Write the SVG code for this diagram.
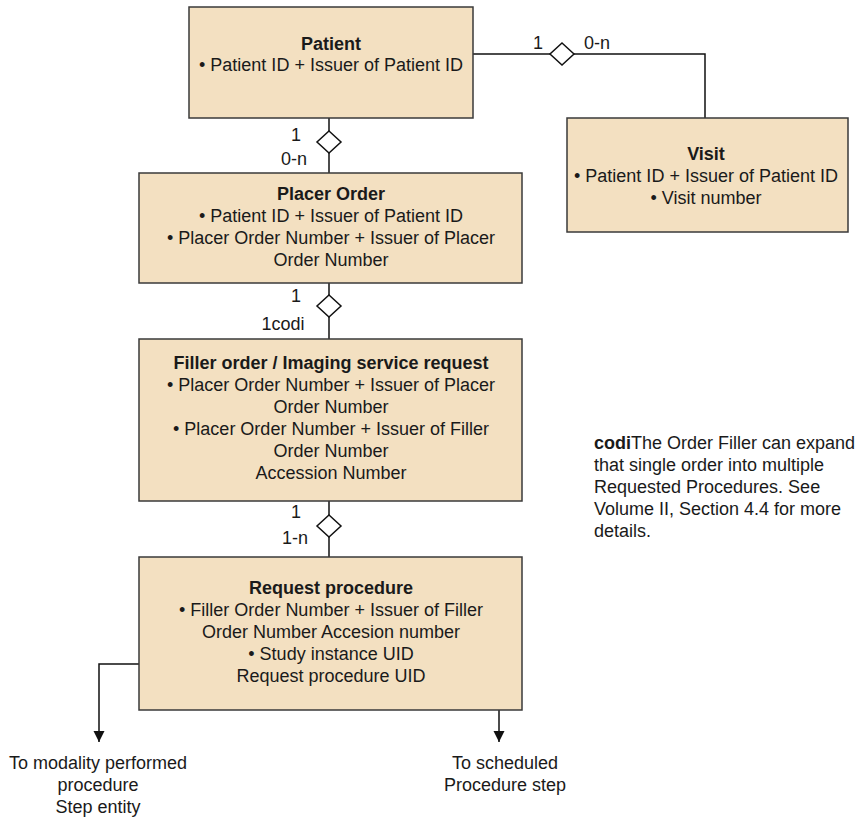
<svg xmlns="http://www.w3.org/2000/svg" width="861" height="820" viewBox="0 0 861 820">
  <defs>
    <style>
      .box { fill: #F3E0C1; stroke: #3a3a3a; stroke-width: 1.5; }
      .t { font-family: "Liberation Sans", Arial, sans-serif; font-size: 18px; fill: #1a1a1a; text-anchor: middle; }
      .b { font-weight: bold; }
      .lbl { font-family: "Liberation Sans", Arial, sans-serif; font-size: 18px; fill: #1a1a1a; text-anchor: middle; }
      .note { font-family: "Liberation Sans", Arial, sans-serif; font-size: 18px; fill: #1a1a1a; }
      .wire { fill: none; stroke: #111; stroke-width: 1.5; }
      .dia { fill: #fff; stroke: #111; stroke-width: 1.5; }
    </style>
    <marker id="tip" markerUnits="userSpaceOnUse" markerWidth="12" markerHeight="12" viewBox="0 0 12 12" refX="11" refY="6" orient="auto">
      <path d="M0,0.5 L11,6 L0,11.5 Z" fill="#111"/>
    </marker>
  </defs>

  <!-- connectors -->
  <g id="connectors">
    <path class="wire" d="M473,54 H705 V118"/>
    <path class="wire" d="M329,118 V173"/>
    <path class="wire" d="M329,283 V339"/>
    <path class="wire" d="M329,501 V557"/>
    <path class="wire" d="M139,664 H99 V742" marker-end="url(#tip)"/>
    <path class="wire" d="M499,710 V742" marker-end="url(#tip)"/>
    <polygon class="dia" points="562,43 574,54 562,65 550,54"/>
    <polygon class="dia" points="329,131 341,142 329,153 317,142"/>
    <polygon class="dia" points="329,295 341,306 329,317 317,306"/>
    <polygon class="dia" points="329,515 341,526 329,537 317,526"/>
    <text class="lbl" x="538" y="49">1</text>
    <text class="lbl" x="597" y="49">0-n</text>
    <text class="lbl" x="296" y="141">1</text>
    <text class="lbl" x="294" y="165">0-n</text>
    <text class="lbl" x="296" y="302">1</text>
    <text class="lbl" x="283" y="330">1codi</text>
    <text class="lbl" x="296" y="518">1</text>
    <text class="lbl" x="295" y="544">1-n</text>
  </g>

  <g id="patient">
    <rect class="box" x="189" y="7" width="284" height="111"/>
    <text class="t b" x="331" y="50">Patient</text>
    <text class="t" x="331" y="71">• Patient ID + Issuer of Patient ID</text>
  </g>

  <g id="visit">
    <rect class="box" x="567" y="118" width="281" height="114"/>
    <text class="t b" x="706" y="160">Visit</text>
    <text class="t" x="706" y="182">• Patient ID + Issuer of Patient ID</text>
    <text class="t" x="706" y="204">• Visit number</text>
  </g>

  <g id="placer-order">
    <rect class="box" x="139" y="173" width="383" height="110"/>
    <text class="t b" x="331" y="200">Placer Order</text>
    <text class="t" x="331" y="222">• Patient ID + Issuer of Patient ID</text>
    <text class="t" x="331" y="244">• Placer Order Number + Issuer of Placer</text>
    <text class="t" x="331" y="266">Order Number</text>
  </g>

  <g id="filler-order">
    <rect class="box" x="139" y="339" width="383" height="162"/>
    <text class="t b" x="331" y="369">Filler order / Imaging service request</text>
    <text class="t" x="331" y="391">• Placer Order Number + Issuer of Placer</text>
    <text class="t" x="331" y="413">Order Number</text>
    <text class="t" x="331" y="435">• Placer Order Number + Issuer of Filler</text>
    <text class="t" x="331" y="457">Order Number</text>
    <text class="t" x="331" y="479">Accession Number</text>
  </g>

  <g id="request-procedure">
    <rect class="box" x="139" y="557" width="383" height="153"/>
    <text class="t b" x="331" y="594">Request procedure</text>
    <text class="t" x="331" y="616">• Filler Order Number + Issuer of Filler</text>
    <text class="t" x="331" y="638">Order Number Accesion number</text>
    <text class="t" x="331" y="660">• Study instance UID</text>
    <text class="t" x="331" y="682">Request procedure UID</text>
  </g>

  <g id="to-mpps">
    <text class="t" x="98" y="769">To modality performed</text>
    <text class="t" x="98" y="791">procedure</text>
    <text class="t" x="98" y="813">Step entity</text>
  </g>

  <g id="to-sps">
    <text class="t" x="505" y="769">To scheduled</text>
    <text class="t" x="505" y="791">Procedure step</text>
  </g>

  <g id="note">
    <text class="note" x="594" y="449"><tspan font-weight="bold">codi</tspan>The Order Filler can expand</text>
    <text class="note" x="594" y="471">that single order into multiple</text>
    <text class="note" x="594" y="493">Requested Procedures. See</text>
    <text class="note" x="594" y="515">Volume II, Section 4.4 for more</text>
    <text class="note" x="594" y="537">details.</text>
  </g>
</svg>
